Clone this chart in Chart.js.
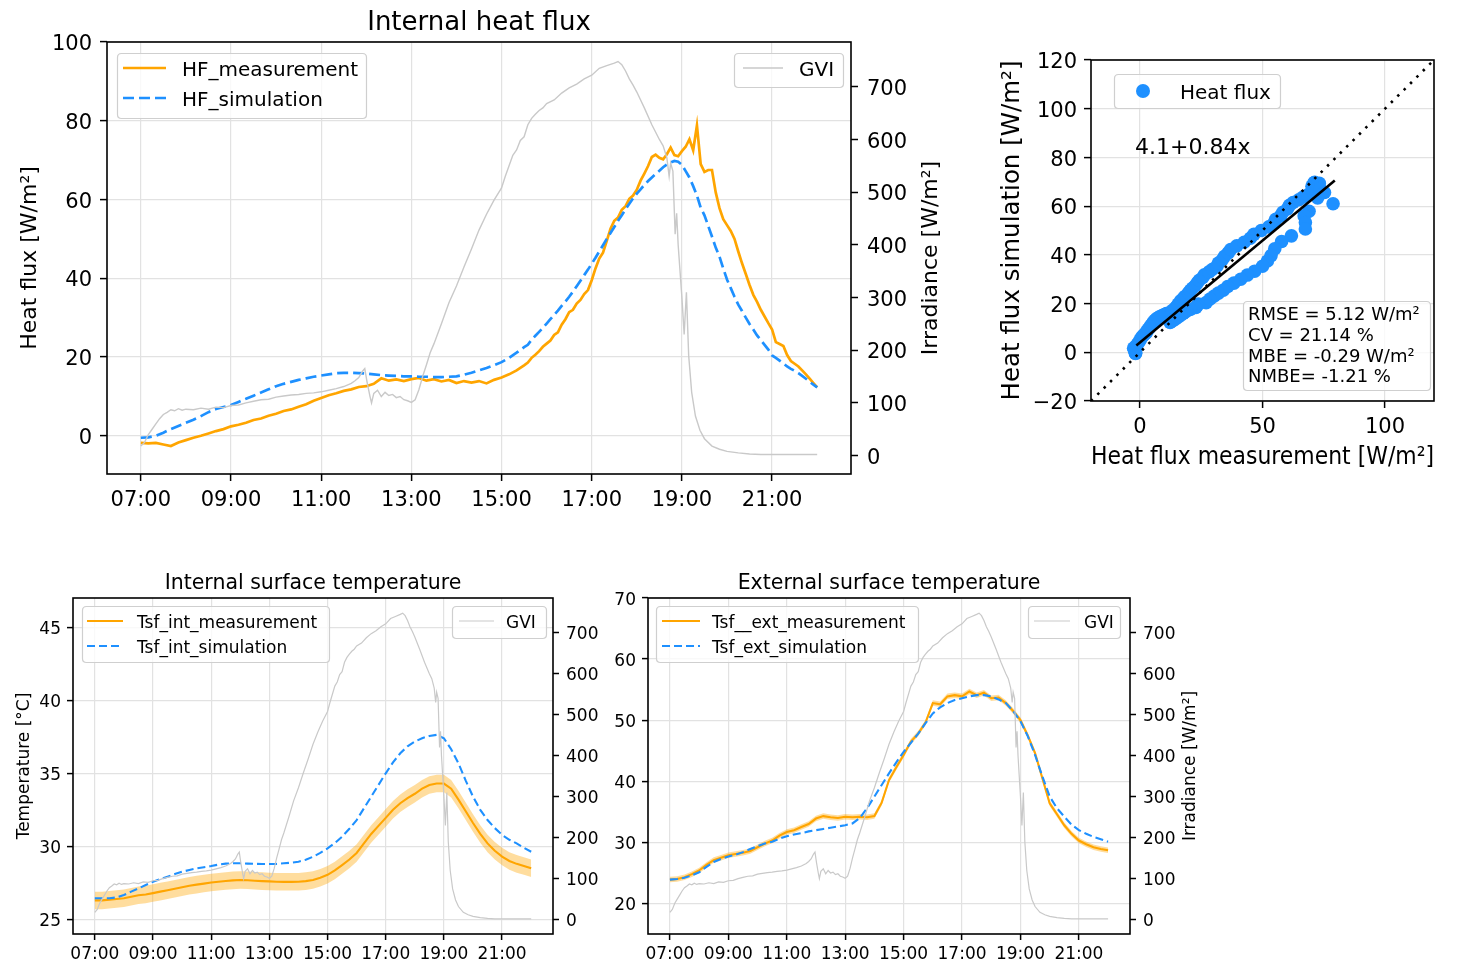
<!DOCTYPE html>
<html>
<head>
<meta charset="utf-8">
<script src="https://cdn.jsdelivr.net/npm/chart.js@4.4.1/dist/chart.umd.min.js"></script>
<style>
html,body{margin:0;padding:0;background:#fff;}
body{width:1458px;height:961px;position:relative;overflow:hidden;}
canvas{position:absolute;}
</style>
</head>
<body>
<canvas id="cA" width="960" height="520" style="left:0;top:0"></canvas>
<canvas id="cB" width="498" height="480" style="left:960px;top:0"></canvas>
<canvas id="cC" width="600" height="401" style="left:0;top:560px"></canvas>
<canvas id="cD" width="620" height="401" style="left:600px;top:560px"></canvas>
<script>
// ================= DATA =================
const timeTickHours  = [7, 9, 11, 13, 15, 17, 19, 21];
const timeTickLabels = ['07:00','09:00','11:00','13:00','15:00','17:00','19:00','21:00'];
const irrTicks = [0, 100, 200, 300, 400, 500, 600, 700];

// Heat flux: 10-minute steps until 15:20, 5-minute steps afterwards
const hfTimes = ['07:00','07:10','07:20','07:30','07:40','07:50','08:00','08:10','08:20','08:30','08:40','08:50',
 '09:00','09:10','09:20','09:30','09:40','09:50','10:00','10:10','10:20','10:30','10:40','10:50',
 '11:00','11:10','11:20','11:30','11:40','11:50','12:00','12:10','12:20','12:30','12:40','12:50',
 '13:00','13:10','13:20','13:30','13:40','13:50','14:00','14:10','14:20','14:30','14:40','14:50',
 '15:00','15:10','15:20',
 '15:30','15:35','15:40','15:45','15:50','15:55',
 '16:00','16:05','16:10','16:15','16:20','16:25','16:30','16:35','16:40','16:45','16:50','16:55',
 '17:00','17:05','17:10','17:15','17:20','17:25','17:30','17:35','17:40','17:45','17:50','17:55',
 '18:00','18:05','18:10','18:15','18:20','18:25','18:30','18:35','18:40','18:45','18:50','18:55',
 '19:00','19:05','19:10','19:15','19:20','19:25','19:30','19:35','19:40','19:45','19:50','19:55',
 '20:00','20:05','20:10','20:15','20:20','20:25','20:30','20:35','20:40','20:45','20:50','20:55',
 '21:00','21:05','21:10','21:15','21:20','21:25','21:30','21:35','21:40','21:45','21:50','21:55',
 '22:00'];
const hfMeasurement = [-1.8,-1.9,-1.8,-2.2,-2.6,-1.7, -1.1,-0.5,0.0,0.6,1.2,1.7,
 2.4,2.8,3.3,4.0,4.4,5.1, 5.6,6.3,6.7,7.4,8.0,8.9, 9.6,10.3,10.8,11.4,11.8,12.4,
 12.6,13.2,14.6,14.0,14.3,13.9, 14.4,14.7,14.0,14.4,13.8,14.2, 13.4,13.9,13.5,13.9,13.3,14.2,
 14.8,15.6,16.6,
 17.9,18.6,19.8,20.6,21.5,22.6,
 23.4,24.2,25.6,26.3,28.2,29.6,31.4,32.0,33.6,34.5,36.0,37.0,
 39.5,42.5,45.0,46.5,49.5,52.6,54.6,55.4,57.4,58.3,60.2,61.0,
 62.5,64.8,66.6,68.5,70.8,71.4,70.6,70.2,71.5,73.2,71.3,71.0,
 72.3,73.4,75.3,72.5,78.8,69.0,67.0,67.5,67.5,61.8,57.8,55.0,
 53.5,52.0,50.0,46.8,43.8,41.1,38.3,35.8,34.0,32.0,30.3,28.6,
 27.0,23.8,23.3,22.8,20.5,19.0,18.3,17.6,16.6,15.6,14.5,13.4,
 12.3];
const hfSimulation = [-0.5,-0.4,0.0,0.8,1.7,2.5, 3.3,4.1,5.0,6.0,6.8,7.3,
 7.8,8.6,9.4,10.2,11.0,11.8, 12.6,13.2,13.7,14.2,14.6,15.0, 15.3,15.6,15.9,16.0,16.0,15.9,
 15.8,15.6,15.4,15.3,15.2,15.1, 15.1,15.0,15.0,14.9,14.9,15.0, 15.1,15.5,16.0,16.6,17.2,17.9,
 18.7,19.8,21.1,
 22.5,23.1,24.4,25.4,26.4,27.4,
 28.5,29.6,30.7,31.8,33.0,34.1,35.3,36.6,38.0,39.4,40.8,42.2,
 43.7,45.2,46.8,48.4,50.0,51.5,53.0,54.6,56.0,57.5,58.9,60.3,
 61.5,62.6,63.7,64.7,65.6,66.5,67.3,68.2,68.9,69.4,69.8,69.6,
 68.8,67.2,65.6,63.4,61.0,57.9,56.0,53.3,50.6,47.8,45.5,42.5,
 39.7,37.5,35.3,33.3,31.7,30.0,28.4,27.0,25.5,24.3,23.1,21.9,
 20.4,19.8,19.1,18.4,17.6,17.0,16.5,15.9,15.2,14.5,13.7,13.0,
 12.3];

// Global vertical irradiance (GVI)
const gviTimes = ['07:00','07:05','07:10','07:15','07:20','07:25','07:30','07:35','07:40','07:45','07:50','07:55',
 '08:00','08:10','08:20','08:30','08:40','08:50','09:00','09:10','09:20','09:30','09:40','09:50',
 '10:00','10:10','10:20','10:30','10:40','10:50','11:00','11:10','11:20','11:30','11:40','11:45','11:50','11:55','11:58',
 '12:01','12:05','12:07','12:10','12:15','12:20','12:25','12:30','12:35','12:40','12:45','12:50','12:55',
 '13:00','13:05','13:10','13:15','13:20','13:25','13:30','13:40','13:50','14:00','14:10','14:20','14:30','14:40','14:50',
 '15:00','15:05','15:10','15:15','15:20','15:25','15:30','15:35','15:40','15:45','15:50','15:55',
 '16:00','16:10','16:20','16:30','16:40','16:50','17:00','17:10','17:20','17:30','17:35','17:40','17:45','17:50','17:55',
 '18:00','18:10','18:20','18:30','18:35','18:40','18:43','18:45','18:48','18:51','18:53','18:55',
 '19:00','19:03','19:06','19:09','19:13','19:18','19:24','19:30','19:40','19:50','20:00','20:15','20:30','20:45',
 '21:00','21:30','22:00'];
const gviValues = [18,25,40,50,60,70,78,82,87,85,89,86,
 88,87,90,88,92,91,95,96,100,103,106,107,
 111,113,115,116,118,119,121,124,127,131,137,142,148,160,165,
 140,112,100,118,124,112,120,114,116,110,112,106,104,
 101,106,125,150,172,195,212,250,290,322,358,392,428,458,485,
 508,530,550,570,580,598,605,628,640,648,655,660,
 668,675,688,698,705,715,722,735,740,745,748,742,730,715,703,
 690,660,628,600,588,565,530,555,540,420,460,400,
 300,230,310,190,120,75,48,32,18,12,8,5,3,2,
 2,2,2];

// Surface temperatures, 15-minute steps
const tempTimes = ['07:00','07:15','07:30','07:45','08:00','08:15','08:30','08:45','09:00','09:15','09:30','09:45',
 '10:00','10:15','10:30','10:45','11:00','11:15','11:30','11:45','12:00','12:15','12:30','12:45',
 '13:00','13:15','13:30','13:45','14:00','14:15','14:30','14:45','15:00','15:15','15:30','15:45',
 '16:00','16:15','16:30','16:45','17:00','17:15','17:30','17:45','18:00','18:15','18:30','18:45',
 '19:00','19:15','19:30','19:45','20:00','20:15','20:30','20:45','21:00','21:15','21:30','21:45','22:00'];
const tsfIntMeasurement = [26.3,26.3,26.35,26.4,26.45,26.55,26.65,26.7,26.8,26.9,27.0,27.1,
 27.2,27.3,27.38,27.45,27.52,27.58,27.63,27.67,27.7,27.68,27.65,27.62,
 27.6,27.58,27.57,27.57,27.58,27.62,27.7,27.85,28.05,28.35,28.72,29.1,
 29.55,30.2,30.85,31.4,31.95,32.5,32.95,33.3,33.6,33.95,34.2,34.3,
 34.3,33.95,33.2,32.4,31.6,30.85,30.2,29.7,29.3,29.0,28.8,28.65,28.5];
const tsfIntUpper = [26.9,26.9,26.95,27.0,27.05,27.15,27.25,27.3,27.4,27.5,27.6,27.7,
 27.8,27.9,27.98,28.05,28.12,28.18,28.23,28.27,28.3,28.28,28.25,28.22,
 28.2,28.18,28.17,28.17,28.18,28.22,28.3,28.45,28.65,28.95,29.32,29.7,
 30.15,30.8,31.45,32.0,32.55,33.1,33.55,33.9,34.2,34.55,34.8,34.9,
 34.9,34.55,33.8,33.0,32.2,31.45,30.8,30.3,29.9,29.6,29.4,29.25,29.1];
const tsfIntLower = [25.7,25.7,25.75,25.8,25.85,25.95,26.05,26.1,26.2,26.3,26.4,26.5,
 26.6,26.7,26.78,26.85,26.92,26.98,27.03,27.07,27.1,27.08,27.05,27.02,
 27.0,26.98,26.97,26.97,26.98,27.02,27.1,27.25,27.45,27.75,28.12,28.5,
 28.95,29.6,30.25,30.8,31.35,31.9,32.35,32.7,33.0,33.35,33.6,33.7,
 33.7,33.35,32.6,31.8,31.0,30.25,29.6,29.1,28.7,28.4,28.2,28.05,27.9];
const tsfIntSimulation = [26.45,26.45,26.45,26.5,26.67,26.9,27.12,27.35,27.58,27.75,27.92,28.1,
 28.26,28.38,28.49,28.57,28.65,28.75,28.82,28.84,28.84,28.82,28.8,28.79,
 28.79,28.8,28.84,28.88,28.95,29.08,29.29,29.55,29.86,30.22,30.66,31.2,
 31.8,32.6,33.4,34.2,35.0,35.75,36.37,36.85,37.17,37.4,37.56,37.63,
 37.4,36.65,35.68,34.5,33.4,32.5,31.8,31.25,30.78,30.45,30.2,29.9,29.63];

const tsfExtMeasurement = [23.9,24.0,24.3,24.8,25.4,26.3,27.1,27.5,27.9,28.1,28.3,28.6,
 29.2,29.8,30.3,31.1,31.7,32.0,32.5,33.0,33.9,34.3,34.1,34.0,
 34.2,34.1,34.2,34.1,34.3,36.5,40.2,42.3,44.3,46.5,47.8,49.6,
 52.8,52.6,53.9,54.1,53.9,54.7,54.1,54.5,53.6,53.7,52.8,51.5,
 50.0,47.5,44.6,40.5,36.4,34.6,32.8,31.4,30.3,29.7,29.2,28.9,28.7];
const tsfExtUpper = [24.35,24.45,24.75,25.25,25.85,26.75,27.55,27.95,28.35,28.55,28.75,29.05,
 29.65,30.25,30.75,31.55,32.15,32.45,32.95,33.45,34.35,34.75,34.55,34.45,
 34.65,34.55,34.65,34.55,34.75,36.95,40.65,42.75,44.75,46.95,48.25,50.05,
 53.25,53.05,54.35,54.55,54.35,55.15,54.55,54.95,54.05,54.15,53.25,51.95,
 50.45,47.95,45.05,40.95,36.85,35.05,33.25,31.85,30.75,30.15,29.65,29.35,29.15];
const tsfExtLower = [23.45,23.55,23.85,24.35,24.95,25.85,26.65,27.05,27.45,27.65,27.85,28.15,
 28.75,29.35,29.85,30.65,31.25,31.55,32.05,32.55,33.45,33.85,33.65,33.55,
 33.75,33.65,33.75,33.65,33.85,36.05,39.75,41.85,43.85,46.05,47.35,49.15,
 52.35,52.15,53.45,53.65,53.45,54.25,53.65,54.05,53.15,53.25,52.35,51.05,
 49.55,47.05,44.15,40.05,35.95,34.15,32.35,30.95,29.85,29.25,28.75,28.45,28.25];
const tsfExtSimulation = [23.9,24.0,24.2,24.6,25.1,26.0,26.8,27.3,27.7,28.0,28.4,28.9,
 29.4,29.8,30.1,30.6,31.0,31.3,31.5,31.8,32.0,32.2,32.4,32.6,
 32.8,33.1,34.0,35.6,37.5,39.4,41.3,43.1,44.8,46.3,47.8,49.5,
 51.1,52.1,52.8,53.3,53.6,53.9,54.1,54.1,53.9,53.4,52.8,51.5,
 49.8,47.4,44.3,40.8,37.5,35.6,34.2,32.9,32.0,31.4,30.9,30.5,30.1];

// Scatter panel
const scatterTicks = [-20, 0, 20, 40, 60, 80, 100, 120];
const scatterTickLabels = ['\u221220','0','20','40','60','80','100','120'];
const scatterXTicks = [0, 50, 100];
const identityX = [-20, 120], identityY = [-20, 120];
const regressionX = [-1.5, 79.5], regressionY = [2.8, 70.5];
const regressionText = '4.1+0.84x';
const statsLines = ['RMSE = 5.12 W/m\u00B2', 'CV = 21.14 %', 'MBE = -0.29 W/m\u00B2', 'NMBE= -1.21 %'];

// ================= HELPERS =================
const FONT = "'DejaVu Sans', sans-serif";
Chart.defaults.font.family = FONT;
Chart.defaults.color = '#000';
const ORANGE = '#FFA500', BLUE = '#1E90FF', GREY = '#c9c9c9', GRID = '#e2e2e2';
const BAND = 'rgba(255,165,0,0.38)';

const toH = s => { const p = s.split(':').map(Number); return p[0] + p[1] / 60; };
const xy = (times, vals) => times.map((t, i) => ({ x: toH(t), y: vals[i] }));
const pairs = (xs, ys) => xs.map((x, i) => ({ x: x, y: ys[i] }));
const setTicks = vals => s => { s.ticks = vals.map(v => ({ value: v })); };

function rrect(ctx, x, y, w, h, r) {
  ctx.beginPath();
  ctx.moveTo(x + r, y);
  ctx.lineTo(x + w - r, y); ctx.quadraticCurveTo(x + w, y, x + w, y + r);
  ctx.lineTo(x + w, y + h - r); ctx.quadraticCurveTo(x + w, y + h, x + w - r, y + h);
  ctx.lineTo(x + r, y + h); ctx.quadraticCurveTo(x, y + h, x, y + h - r);
  ctx.lineTo(x, y + r); ctx.quadraticCurveTo(x, y, x + r, y);
  ctx.closePath();
}
function box(ctx, x, y, w, h) {
  ctx.save();
  rrect(ctx, x + 0.5, y + 0.5, w, h, 4);
  ctx.fillStyle = 'rgba(255,255,255,0.8)';
  ctx.fill();
  ctx.strokeStyle = '#cfcfcf';
  ctx.lineWidth = 1.2;
  ctx.stroke();
  ctx.restore();
}
function sample(ctx, x1, x2, y, color, lw, dash) {
  ctx.save();
  ctx.strokeStyle = color; ctx.lineWidth = lw; ctx.setLineDash(dash || []);
  ctx.beginPath(); ctx.moveTo(x1, y); ctx.lineTo(x2, y); ctx.stroke();
  ctx.restore();
}
function text(ctx, s, x, y, size, align, rot) {
  ctx.save();
  ctx.font = size + 'px ' + FONT;
  ctx.fillStyle = '#000';
  ctx.textAlign = align || 'left';
  ctx.textBaseline = 'middle';
  ctx.translate(x, y);
  if (rot) ctx.rotate(rot);
  ctx.fillText(s, 0, size * 0.13);
  ctx.restore();
}
function frame(ctx, ca) {
  ctx.save();
  ctx.strokeStyle = '#000'; ctx.lineWidth = 1.6;
  ctx.strokeRect(ca.left, ca.top, ca.right - ca.left, ca.bottom - ca.top);
  ctx.restore();
}
function deco(fn) {
  return { id: 'deco', afterDraw(chart) { fn(chart.ctx, chart.chartArea); } };
}

function timeChart(id, o) {
  const lo = Math.round(o.tick * 0.13 * 10) / 10;
  return new Chart(document.getElementById(id), {
    type: 'line',
    data: { datasets: o.datasets },
    options: {
      responsive: false, animation: false, devicePixelRatio: 1,
      layout: { padding: 0 },
      plugins: {
        legend: { display: false }, tooltip: { enabled: false },
        title: { display: true, text: o.title, fullSize: false, color: '#000',
          font: { size: o.titleSize, weight: 'normal' },
          padding: { top: o.titlePad[0], bottom: o.titlePad[1] } }
      },
      scales: {
        x: { type: 'linear', min: 6.25, max: 22.75,
          afterFit: s => { s.height = o.xH; },
          afterBuildTicks: setTicks(timeTickHours),
          ticks: { font: { size: o.tick }, padding: o.xPad, maxRotation: 0, autoSkip: false,
            callback: v => timeTickLabels[timeTickHours.indexOf(v)] },
          grid: { color: GRID, lineWidth: 1.2, tickLength: o.tl, tickColor: '#000', tickWidth: 1.5 },
          border: { display: false } },
        y: { position: 'left', min: o.yMin, max: o.yMax,
          afterFit: s => { s.width = o.yW; },
          afterBuildTicks: setTicks(o.yTicks),
          ticks: { font: { size: o.tick }, padding: o.yPad, labelOffset: lo },
          title: { display: !!o.yTitle, text: o.yTitle, font: { size: o.yTitleSize }, padding: { top: o.yTitlePad, bottom: 0 } },
          grid: { color: GRID, lineWidth: 1.2, tickLength: o.tl, tickColor: '#000', tickWidth: 1.5 },
          border: { display: false } },
        y2: { position: 'right', min: -35, max: 785,
          afterFit: s => { s.width = o.y2W; },
          afterBuildTicks: setTicks(irrTicks),
          ticks: { font: { size: o.tick }, padding: o.y2Pad, labelOffset: lo },
          grid: { drawOnChartArea: false, tickLength: o.tl, tickColor: '#000', tickWidth: 1.5 },
          border: { display: false } }
      }
    },
    plugins: [deco(o.decorate)]
  });
}
const noLine = { borderColor: 'rgba(0,0,0,0)', borderWidth: 0, pointRadius: 0 };

// ================= CHART A: Internal heat flux =================
timeChart('cA', {
  title: 'Internal heat flux', titleSize: 26, titlePad: [7.2, 3.6],
  tick: 21, tl: 7, xH: 46, xPad: 7, yW: 107, y2W: 109, yPad: 8, y2Pad: 9,
  yMin: -9.7, yMax: 100, yTicks: [0, 20, 40, 60, 80, 100],
  yTitle: 'Heat flux [W/m\u00B2]', yTitleSize: 22, yTitlePad: 17,
  datasets: [
    { label: 'GVI', data: xy(gviTimes, gviValues), yAxisID: 'y2', borderColor: GREY, borderWidth: 1.4, pointRadius: 0, order: 0 },
    { label: 'HF_simulation', data: xy(hfTimes, hfSimulation), yAxisID: 'y', borderColor: BLUE, borderWidth: 2.7, borderDash: [11, 5], pointRadius: 0, order: 1 },
    { label: 'HF_measurement', data: xy(hfTimes, hfMeasurement), yAxisID: 'y', borderColor: ORANGE, borderWidth: 2.7, pointRadius: 0, order: 2 }
  ],
  decorate: (ctx, ca) => {
    frame(ctx, ca);
    box(ctx, ca.left + 10, ca.top + 11, 249, 65);
    sample(ctx, ca.left + 16, ca.left + 59, ca.top + 26, ORANGE, 2.7);
    sample(ctx, ca.left + 16, ca.left + 59, ca.top + 56, BLUE, 2.7, [11, 5]);
    text(ctx, 'HF_measurement', ca.left + 75, ca.top + 26, 20);
    text(ctx, 'HF_simulation', ca.left + 75, ca.top + 56, 20);
    box(ctx, ca.right - 117, ca.top + 11, 109, 34);
    sample(ctx, ca.right - 108, ca.right - 68, ca.top + 26, GREY, 1.4);
    text(ctx, 'GVI', ca.right - 52, ca.top + 26, 20);
    text(ctx, 'Irradiance [W/m\u00B2]', ca.right + 77, (ca.top + ca.bottom) / 2, 22, 'center', -Math.PI / 2);
  }
});

// ================= CHART B: scatter =================
new Chart(document.getElementById('cB'), {
  type: 'scatter',
  data: { datasets: [
    { data: pairs(identityX, identityY), showLine: true, borderColor: '#000', borderWidth: 2.6, borderDash: [2.5, 6.5], pointRadius: 0, order: 0 },
    { data: pairs(regressionX, regressionY), showLine: true, borderColor: '#000', borderWidth: 2.6, pointRadius: 0, order: 0 },
    { label: 'Heat flux', data: pairs(hfMeasurement, hfSimulation), backgroundColor: BLUE, borderWidth: 0, pointRadius: 6.8, order: 1 }
  ] },
  options: {
    responsive: false, animation: false, devicePixelRatio: 1,
    layout: { padding: { top: 60, right: 24, left: 0, bottom: 0 } },
    plugins: { legend: { display: false }, tooltip: { enabled: false } },
    scales: {
      x: { type: 'linear', min: -20, max: 120,
        afterFit: s => { s.height = 79; },
        afterBuildTicks: setTicks(scatterXTicks),
        ticks: { font: { size: 21 }, padding: 6.5 },
        title: { display: true, text: 'Heat flux measurement [W/m\u00B2]', font: { size: 24.5 }, padding: { top: 0, bottom: 7.3 } },
        grid: { color: GRID, lineWidth: 1.2, tickLength: 7, tickColor: '#000', tickWidth: 1.5 },
        border: { display: false } },
      y: { type: 'linear', min: -20, max: 120,
        afterFit: s => { s.width = 131; },
        afterBuildTicks: setTicks(scatterTicks),
        ticks: { font: { size: 21 }, padding: 7, labelOffset: 2.7, callback: v => scatterTickLabels[scatterTicks.indexOf(v)] },
        title: { display: true, text: 'Heat flux simulation [W/m\u00B2]', font: { size: 24.5 }, padding: { top: 37.5, bottom: 0 } },
        grid: { color: GRID, lineWidth: 1.2, tickLength: 7, tickColor: '#000', tickWidth: 1.5 },
        border: { display: false } }
    }
  },
  plugins: [deco((ctx, ca) => {
    frame(ctx, ca);
    box(ctx, ca.left + 23, ca.top + 14, 166, 34);
    ctx.save(); ctx.fillStyle = BLUE; ctx.beginPath(); ctx.arc(ca.left + 52, ca.top + 31, 7, 0, Math.PI * 2); ctx.fill(); ctx.restore();
    text(ctx, 'Heat flux', ca.left + 89, ca.top + 31, 20);
    text(ctx, regressionText, ca.left + 44, ca.top + 85, 22);
    box(ctx, ca.left + 152, ca.top + 241, 187, 89);
    const ys = [253, 274, 295, 315];
    statsLines.forEach((s, i) => text(ctx, s, ca.left + 157, ca.top + ys[i], 18));
  })]
});

// ================= CHART C: internal surface temperature =================
timeChart('cC', {
  title: 'Internal surface temperature', titleSize: 20.5, titlePad: [11.2, 2.2],
  tick: 17, tl: 6, xH: 27, xPad: 4.5, yW: 73, y2W: 47, yPad: 6, y2Pad: 7,
  yMin: 24.0, yMax: 47.0, yTicks: [25, 30, 35, 40, 45],
  yTitle: 'Temperature [\u00B0C]', yTitleSize: 17, yTitlePad: 14,
  datasets: [
    { label: 'GVI', data: xy(gviTimes, gviValues), yAxisID: 'y2', borderColor: GREY, borderWidth: 1.2, pointRadius: 0, order: 0 },
    { label: 'Tsf_int_simulation', data: xy(tempTimes, tsfIntSimulation), yAxisID: 'y', borderColor: BLUE, borderWidth: 2.1, borderDash: [8, 4], pointRadius: 0, order: 1 },
    { label: 'Tsf_int_measurement', data: xy(tempTimes, tsfIntMeasurement), yAxisID: 'y', borderColor: ORANGE, borderWidth: 2.1, pointRadius: 0, order: 2 },
    Object.assign({ label: 'low', data: xy(tempTimes, tsfIntLower), yAxisID: 'y', fill: false, order: 4 }, noLine),
    Object.assign({ label: 'up', data: xy(tempTimes, tsfIntUpper), yAxisID: 'y', fill: '-1', backgroundColor: BAND, order: 3 }, noLine)
  ],
  decorate: (ctx, ca) => {
    frame(ctx, ca);
    box(ctx, ca.left + 9, ca.top + 8, 247, 56);
    sample(ctx, ca.left + 14, ca.left + 50, ca.top + 23, ORANGE, 2.1);
    sample(ctx, ca.left + 14, ca.left + 50, ca.top + 48, BLUE, 2.1, [8, 4]);
    text(ctx, 'Tsf_int_measurement', ca.left + 64, ca.top + 23, 17);
    text(ctx, 'Tsf_int_simulation', ca.left + 64, ca.top + 48, 17);
    box(ctx, ca.right - 101, ca.top + 8, 94, 32);
    sample(ctx, ca.right - 94, ca.right - 59, ca.top + 23, GREY, 1.2);
    text(ctx, 'GVI', ca.right - 47, ca.top + 23, 17);
  }
});

// ================= CHART D: external surface temperature =================
timeChart('cD', {
  title: 'External surface temperature', titleSize: 20.5, titlePad: [11.2, 2.2],
  tick: 17, tl: 6, xH: 27, xPad: 4.5, yW: 48, y2W: 90, yPad: 6, y2Pad: 7,
  yMin: 15, yMax: 70, yTicks: [20, 30, 40, 50, 60, 70],
  yTitle: '', yTitleSize: 17, yTitlePad: 0,
  datasets: [
    { label: 'GVI', data: xy(gviTimes, gviValues), yAxisID: 'y2', borderColor: GREY, borderWidth: 1.2, pointRadius: 0, order: 0 },
    { label: 'Tsf_ext_simulation', data: xy(tempTimes, tsfExtSimulation), yAxisID: 'y', borderColor: BLUE, borderWidth: 2.1, borderDash: [8, 4], pointRadius: 0, order: 1 },
    { label: 'Tsf__ext_measurement', data: xy(tempTimes, tsfExtMeasurement), yAxisID: 'y', borderColor: ORANGE, borderWidth: 2.1, pointRadius: 0, order: 2 },
    Object.assign({ label: 'low', data: xy(tempTimes, tsfExtLower), yAxisID: 'y', fill: false, order: 4 }, noLine),
    Object.assign({ label: 'up', data: xy(tempTimes, tsfExtUpper), yAxisID: 'y', fill: '-1', backgroundColor: BAND, order: 3 }, noLine)
  ],
  decorate: (ctx, ca) => {
    frame(ctx, ca);
    box(ctx, ca.left + 8, ca.top + 8, 262, 56);
    sample(ctx, ca.left + 14, ca.left + 52, ca.top + 23, ORANGE, 2.1);
    sample(ctx, ca.left + 14, ca.left + 52, ca.top + 48, BLUE, 2.1, [8, 4]);
    text(ctx, 'Tsf__ext_measurement', ca.left + 64, ca.top + 23, 17);
    text(ctx, 'Tsf_ext_simulation', ca.left + 64, ca.top + 48, 17);
    box(ctx, ca.right - 102, ca.top + 8, 92, 32);
    sample(ctx, ca.right - 96, ca.right - 60, ca.top + 23, GREY, 1.2);
    text(ctx, 'GVI', ca.right - 46, ca.top + 23, 17);
    text(ctx, 'Irradiance [W/m\u00B2]', ca.right + 58, (ca.top + ca.bottom) / 2, 17, 'center', -Math.PI / 2);
  }
});
</script>
</body>
</html>
